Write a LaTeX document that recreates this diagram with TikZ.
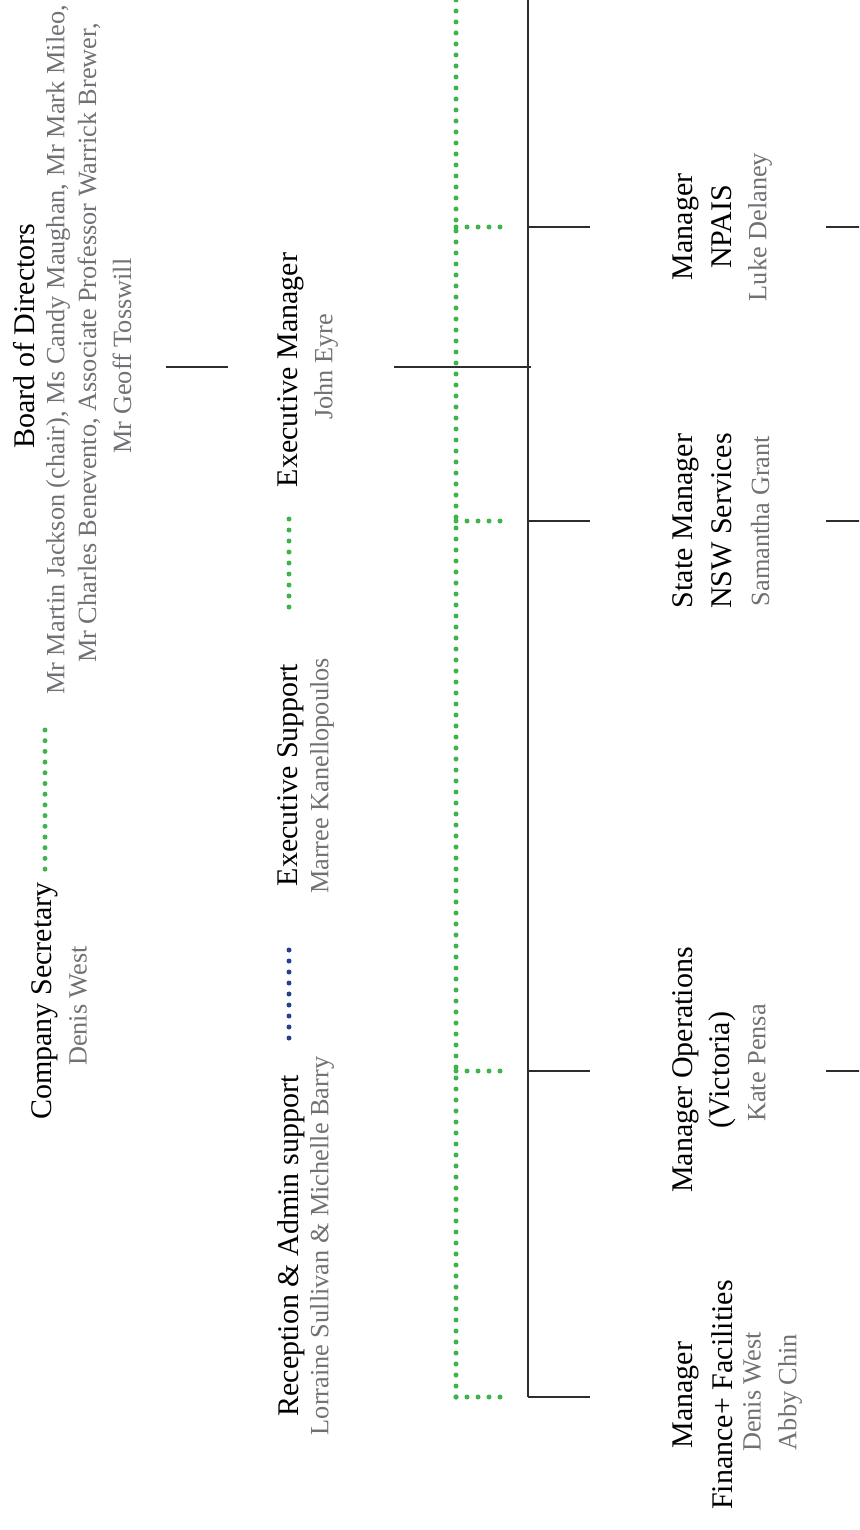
\documentclass[tikz,border=0pt]{standalone}
\usepackage{fontspec}
\setmainfont{Liberation Serif}
\definecolor{nameGray}{RGB}{112,113,116}
\definecolor{dotGreen}{RGB}{61,181,74}
\definecolor{dotBlue}{RGB}{36,64,143}
\definecolor{lineDark}{RGB}{45,45,45}
\begin{document}
\begin{tikzpicture}[x=1pt,y=-1pt,
  title/.style={rotate=90,inner sep=0pt,font=\fontsize{30}{36}\selectfont,text=black},
  person/.style={rotate=90,inner sep=0pt,font=\fontsize{26.3}{31}\selectfont,text=nameGray},
  solidline/.style={draw=lineDark,line width=1.3pt},
  greendots/.style={draw=dotGreen,line width=5pt,line cap=round,dash pattern=on 0pt off 11pt},
  bluedots/.style={draw=dotBlue,line width=5pt,line cap=round,dash pattern=on 0pt off 11pt}]
\useasboundingbox (0,0) rectangle (859,1530);
\clip (0,0) rectangle (859,1530);

% Board of Directors
\node[title]  (board)  at (24,336) {Board of Directors};
\node[person] (boardA) at (58,350) {Mr Martin Jackson (chair), Ms Candy Maughan, Mr Mark Mileo,};
\node[person] (boardB) at (89,343) {Mr Charles Benevento, Associate Professor Warrick Brewer,};
\node[person] (boardC) at (122,356) {Mr Geoff Tosswill};

% Company Secretary
\node[title]  (cs)     at (45,1001) {Company Secretary};
\node[person] (csName) at (78,1006) {Denis West};

% Executive Manager
\node[title]  (em)     at (291,370) {Executive Manager};
\node[person] (emName) at (326,367) {John Eyre};

% Executive Support
\node[title]  (es)     at (291,775) {Executive Support};
\node[person] (esName) at (322,776) {Marree Kanellopoulos};

% Reception
\node[title]  (ra)     at (291,1246) {Reception \& Admin support};
\node[person] (raName) at (322,1246) {Lorraine Sullivan \& Michelle Barry};

% Managers
\node[title]  (npA)  at (686,227) {Manager};
\node[title]  (npB)  at (722,227) {NPAIS};
\node[person] (npC)  at (760,227) {Luke Delaney};

\node[title]  (nswA) at (686,521) {State Manager};
\node[title]  (nswB) at (722,521) {NSW Services};
\node[person] (nswC) at (760,521) {Samantha Grant};

\node[title]  (vicA) at (686,1070) {Manager Operations};
\node[title]  (vicB) at (722,1070) {(Victoria)};
\node[person] (vicC) at (757,1063) {Kate Pensa};

\node[title]  (finA) at (686,1395) {Manager};
\node[title]  (finB) at (722,1395) {Finance+ Facilities};
\node[person] (finC) at (752,1392) {Denis West};
\node[person] (finD) at (790,1392) {Abby Chin};

% connector coordinates
\coordinate (bL) at (166,367);
\coordinate (bR) at (228,367);
\coordinate (eL) at (394,367);
\coordinate (eR) at (531,367);
\coordinate (vTop) at (528,-2);
\coordinate (vBot) at (528,1397);
\coordinate (gTop) at (456,-8);
\coordinate (gBot) at (456,1397);
\coordinate (csTop) at (45,730);
\coordinate (csBot) at (45,869.2);
\coordinate (esTop) at (289,519);
\coordinate (esBot) at (289,607.5);
\coordinate (raTop) at (289,950);
\coordinate (raBot) at (289,1038.5);

\draw[solidline] (bL) -- (bR);
\draw[solidline] (eL) -- (eR);
\draw[solidline] (vTop) -- (vBot);

\foreach \yy/\nm in {227/a,521/b,1071/c,1397/d}{
  \coordinate (gs\nm) at (456,\yy);
  \coordinate (ge\nm) at (501,\yy);
  \coordinate (ls\nm) at (528,\yy);
  \coordinate (le\nm) at (590,\yy);
  \draw[greendots] (gs\nm) -- (ge\nm);
  \draw[solidline] (ls\nm) -- (le\nm);
}
\foreach \yy/\nm in {227/a,521/b,1071/c}{
  \coordinate (rs\nm) at (826,\yy);
  \coordinate (re\nm) at (860,\yy);
  \draw[solidline] (rs\nm) -- (re\nm);
}

\draw[greendots] (gBot) -- (gTop);
\draw[greendots,dash pattern=on 0pt off 10.7pt] (csTop) -- (csBot);
\draw[greendots] (esTop) -- (esBot);
\draw[bluedots] (raTop) -- (raBot);
\end{tikzpicture}
\end{document}
